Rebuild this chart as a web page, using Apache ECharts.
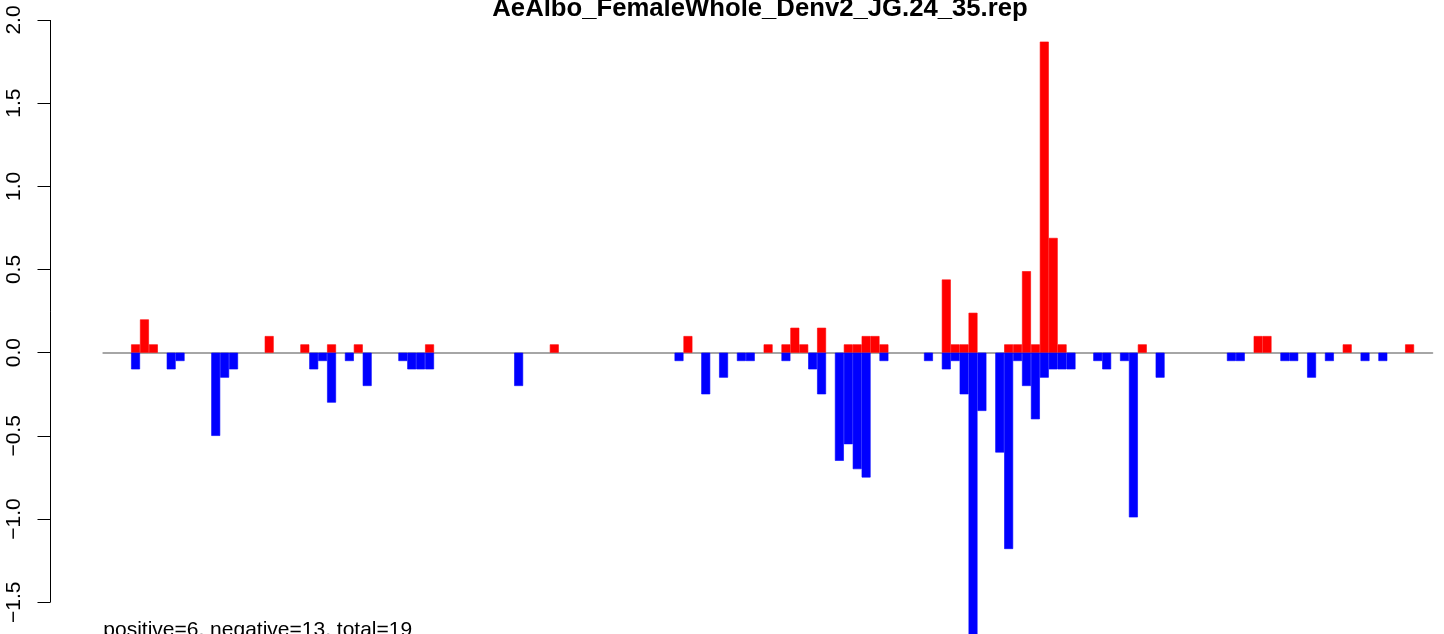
<!DOCTYPE html>
<html><head><meta charset="utf-8">
<script src="https://cdn.jsdelivr.net/npm/echarts@6/dist/echarts.min.js"></script>
<style>html,body{margin:0;padding:0;background:#fff}#c{width:1444px;height:634px}</style>
</head><body><div id="c"></div>
<script>
const titleText = 'AeAlbo_FemaleWhole_Denv2_JG.24_35.rep';
const noteText = 'positive=6, negative=13, total=19';
const yTickValues = [-1.5, -1.0, -0.5, 0.0, 0.5, 1.0, 1.5, 2.0];
// bin positions 1..144
const positions = [
  1,2,3,4,5,6,7,8,9,10,11,12,
  13,14,15,16,17,18,19,20,21,22,23,24,
  25,26,27,28,29,30,31,32,33,34,35,36,
  37,38,39,40,41,42,43,44,45,46,47,48,
  49,50,51,52,53,54,55,56,57,58,59,60,
  61,62,63,64,65,66,67,68,69,70,71,72,
  73,74,75,76,77,78,79,80,81,82,83,84,
  85,86,87,88,89,90,91,92,93,94,95,96,
  97,98,99,100,101,102,103,104,105,106,107,108,
  109,110,111,112,113,114,115,116,117,118,119,120,
  121,122,123,124,125,126,127,128,129,130,131,132,
  133,134,135,136,137,138,139,140,141,142,143,144
];
const positiveValues = [
  0.05,0.2,0.05,0,0,0,0,0,0,0,0,0,
  0,0,0,0.1,0,0,0,0.05,0,0,0.05,0,
  0,0.05,0,0,0,0,0,0,0,0.05,0,0,
  0,0,0,0,0,0,0,0,0,0,0,0.05,
  0,0,0,0,0,0,0,0,0,0,0,0,
  0,0,0.1,0,0,0,0,0,0,0,0,0.05,
  0,0.05,0.15,0.05,0,0.15,0,0,0.05,0.05,0.1,0.1,
  0.05,0,0,0,0,0,0,0.44,0.05,0.05,0.24,0,
  0,0,0.05,0.05,0.49,0.05,1.87,0.69,0.05,0,0,0,
  0,0,0,0,0,0.05,0,0,0,0,0,0,
  0,0,0,0,0,0,0.1,0.1,0,0,0,0,
  0,0,0,0,0.05,0,0,0,0,0,0,0.05
];
const negativeValues = [
  -0.1,0,0,0,-0.1,-0.05,0,0,0,-0.5,-0.15,-0.1,
  0,0,0,0,0,0,0,0,-0.1,-0.05,-0.3,0,
  -0.05,0,-0.2,0,0,0,-0.05,-0.1,-0.1,-0.1,0,0,
  0,0,0,0,0,0,0,-0.2,0,0,0,0,
  0,0,0,0,0,0,0,0,0,0,0,0,
  0,-0.05,0,0,-0.25,0,-0.15,0,-0.05,-0.05,0,0,
  0,-0.05,0,0,-0.1,-0.25,0,-0.65,-0.55,-0.7,-0.75,0,
  -0.05,0,0,0,0,-0.05,0,-0.1,-0.05,-0.25,-1.7,-0.35,
  0,-0.6,-1.18,-0.05,-0.2,-0.4,-0.15,-0.1,-0.1,-0.1,0,0,
  -0.05,-0.1,0,-0.05,-0.99,0,0,-0.15,0,0,0,0,
  0,0,0,-0.05,-0.05,0,0,0,0,-0.05,-0.05,0,
  -0.15,0,-0.05,0,0,0,-0.05,0,-0.05,0,0,0
];

const GRID_LEFT = 103.3, GRID_RIGHT = 11.7, GRID_TOP = 20, GRID_BOTTOM = -1.5;
const AXIS_X = 50.5;
const FONT = '"Liberation Sans", Arial, Helvetica, sans-serif';

const chart = echarts.init(document.getElementById('c'), null, {renderer: 'canvas'});
const toData = arr => positions.map((p, i) => [p, arr[i] === 0 ? '-' : arr[i]]);
const fmt = v => (v < 0 ? '\u2212' : '') + Math.abs(v).toFixed(1);

chart.setOption({
  animation: false,
  backgroundColor: '#ffffff',
  grid: [
    {left: AXIS_X, width: 1, top: GRID_TOP, bottom: GRID_BOTTOM, containLabel: false, outerBoundsMode: 'none'},
    {left: GRID_LEFT, right: GRID_RIGHT, top: GRID_TOP, bottom: GRID_BOTTOM, containLabel: false, outerBoundsMode: 'none'}
  ],
  xAxis: [
    {gridIndex: 0, type: 'value', show: false, min: 0, max: 1},
    {gridIndex: 1, type: 'value', min: -2.62, max: 146.55,
      axisLine: {show: true, onZero: true, lineStyle: {color: '#a6a6a6', width: 2}},
      axisTick: {show: false}, axisLabel: {show: false}, splitLine: {show: false}}
  ],
  yAxis: [
    {gridIndex: 0, type: 'value', min: -1.7, max: 2.0,
      axisLine: {show: false},
      axisTick: {show: true, length: 13, customValues: yTickValues, lineStyle: {color: '#000', width: 1}},
      axisLabel: {show: true, customValues: yTickValues, rotate: 90, margin: 25.6, fontSize: 21,
        fontFamily: FONT, color: '#000', formatter: fmt},
      splitLine: {show: false}},
    {gridIndex: 1, type: 'value', min: -1.7, max: 2.0, show: false, splitLine: {show: false}}
  ],
  series: [
    {type: 'bar', name: 'positive', xAxisIndex: 1, yAxisIndex: 1, data: toData(positiveValues),
      barWidth: '100%', barGap: '-100%',
      itemStyle: {color: '#ff0000', borderColor: '#ff0000', borderWidth: 0.6}, silent: true},
    {type: 'bar', name: 'negative', xAxisIndex: 1, yAxisIndex: 1, data: toData(negativeValues),
      barWidth: '100%', barGap: '-100%',
      itemStyle: {color: '#0000ff', borderColor: '#0000ff', borderWidth: 0.6}, silent: true}
  ]
});

const yTop = chart.convertToPixel({yAxisIndex: 0}, yTickValues[yTickValues.length - 1]);
const yBot = chart.convertToPixel({yAxisIndex: 0}, yTickValues[0]);
chart.setOption({
  graphic: [
    {type: 'line', shape: {x1: AXIS_X, y1: yTop, x2: AXIS_X, y2: yBot}, style: {stroke: '#000', lineWidth: 1}, z: 10},
    {type: 'text', x: 760, y: 8.5, style: {text: titleText, font: 'bold 25.7px ' + FONT, fill: '#000', align: 'center', verticalAlign: 'middle'}},
    {type: 'text', x: 103.3, y: 630.2, style: {text: noteText, font: '21px ' + FONT, fill: '#000', align: 'left', verticalAlign: 'middle'}}
  ]
});
</script></body></html>
